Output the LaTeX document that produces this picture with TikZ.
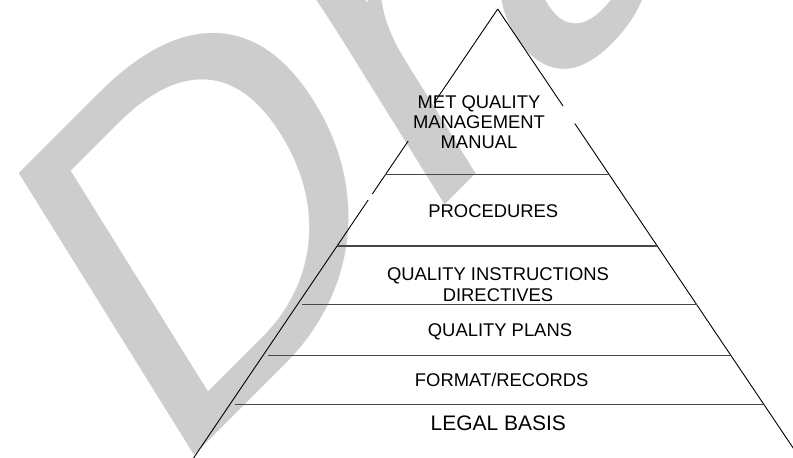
\documentclass[tikz,border=0pt]{standalone}
\usepackage{fontspec}
\setmainfont{Liberation Sans}
\definecolor{wmgray}{RGB}{205,205,205}
\begin{document}
\begin{tikzpicture}[x=1pt,y=-1pt,
  side/.style={black,line width=0.9pt},
  tier/.style={black!72,line width=1.4pt},
  lbl/.style={inner sep=0pt,font=\fontsize{18.4}{20}\selectfont,align=center},
  wm/.style={inner sep=0pt,text=wmgray,rotate=45,xslant=0.233,xscale=1.065,anchor=base west,font=\fontsize{470}{470}\selectfont}]
\useasboundingbox (0,0) rectangle (793,458);
% watermark
\begin{scope}
\clip (0,0) rectangle (793,458);
\node[wm] (draft) at (165,485) {Draft};
\end{scope}
% pyramid sides
\coordinate (apex) at (497.7,9);
\coordinate (l1) at (434.0,103);
\coordinate (l2a) at (408.2,141);
\coordinate (l2b) at (372.3,194);
\coordinate (l3a) at (368.2,200);
\coordinate (l3b) at (193.6,458);
\coordinate (r1) at (563.0,106);
\coordinate (r2a) at (574.8,123.5);
\coordinate (r2b) at (799.9,458);
\draw[side] (apex) -- (l1);
\draw[side] (l2a) -- (l2b);
\draw[side] (l3a) -- (l3b);
\draw[side] (apex) -- (r1);
\draw[side] (r2a) -- (r2b);
% tiers
\coordinate (t1a) at (385,174.3);   \coordinate (t1b) at (608.5,174.3);
\coordinate (t2a) at (337,246);     \coordinate (t2b) at (657,246);
\coordinate (t3a) at (302,304.5);   \coordinate (t3b) at (697,304.5);
\coordinate (t4a) at (268,355.2);   \coordinate (t4b) at (730.5,355.2);
\coordinate (t5a) at (235,404.7);   \coordinate (t5b) at (764,404.7);
\draw[tier] (t1a) -- (t1b);
\draw[tier] (t2a) -- (t2b);
\draw[tier] (t3a) -- (t3b);
\draw[tier] (t4a) -- (t4b);
\draw[tier] (t5a) -- (t5b);
% labels
\node[lbl,anchor=center] (met) at (479,122) {MET QUALITY\\MANAGEMENT\\MANUAL};
\node[lbl,anchor=base] (proc) at (493.3,217.7) {PROCEDURES};
\node[lbl,anchor=center,font=\fontsize{18.4}{20.7}\selectfont] (qi) at (498,284.7) {QUALITY INSTRUCTIONS\\DIRECTIVES};
\node[lbl,anchor=base] (qp) at (500,336.7) {QUALITY PLANS};
\node[lbl,anchor=base] (fr) at (501.7,386.7) {FORMAT/RECORDS};
\node[lbl,anchor=base,font=\fontsize{21}{24}\selectfont] (lb) at (498.3,430) {LEGAL BASIS};
\end{tikzpicture}
\end{document}
